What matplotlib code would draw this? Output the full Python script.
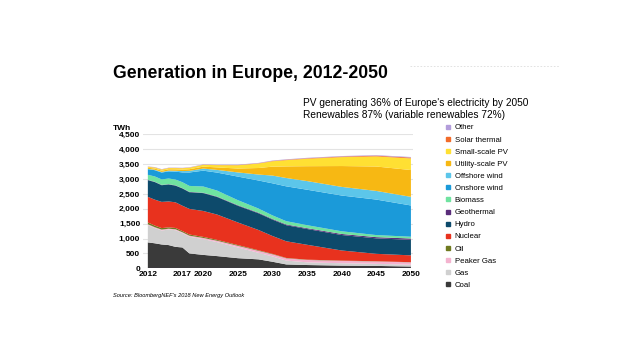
import matplotlib
matplotlib.use("Agg")
import matplotlib.pyplot as plt
from matplotlib.lines import Line2D

years = [2012, 2013, 2014, 2015, 2016, 2017, 2018, 2020, 2022, 2025, 2028, 2030, 2032, 2035, 2040, 2045, 2050]

coal       = [870, 840, 800, 780, 720, 700, 500, 450, 410, 340, 300, 220, 130, 110, 90, 80, 60]
gas        = [580, 510, 470, 520, 560, 480, 560, 530, 470, 360, 220, 180, 130, 90, 80, 70, 60]
peaker_gas = [30, 30, 30, 30, 30, 30, 35, 40, 45, 55, 65, 70, 75, 80, 80, 80, 80]
oil        = [60, 55, 50, 45, 45, 40, 40, 35, 30, 25, 20, 15, 12, 10, 8, 6, 5]
nuclear    = [860, 870, 880, 870, 860, 850, 860, 870, 850, 760, 680, 600, 560, 500, 340, 250, 230]
hydro      = [560, 590, 560, 570, 560, 580, 560, 600, 590, 560, 560, 550, 540, 530, 520, 520, 520]
geothermal = [10, 10, 10, 10, 10, 10, 12, 12, 15, 18, 20, 22, 25, 28, 35, 40, 45]
biomass    = [170, 180, 185, 190, 195, 200, 200, 210, 200, 170, 140, 120, 110, 100, 90, 70, 60]
onshore    = [188, 210, 230, 240, 265, 330, 450, 532, 604, 792, 943, 1077, 1170, 1191, 1201, 1192, 1050]
offshore   = [12, 15, 20, 25, 30, 45, 55, 70, 90, 140, 200, 260, 280, 290, 290, 290, 290]
utility_pv = [36, 40, 42, 45, 48, 50, 55, 65, 85, 130, 220, 300, 390, 500, 700, 820, 900]
small_pv   = [30, 35, 38, 40, 42, 45, 50, 60, 75, 110, 150, 180, 210, 250, 300, 340, 390]
solar_th   = [4, 5, 5, 5, 5, 5, 5, 6, 6, 8, 10, 12, 14, 16, 20, 24, 28]
other      = [10, 10, 10, 10, 10, 10, 10, 10, 10, 12, 12, 14, 14, 15, 16, 18, 20]

labels = ["Coal", "Gas", "Peaker Gas", "Oil", "Nuclear", "Hydro", "Geothermal",
          "Biomass", "Onshore wind", "Offshore wind", "Utility-scale PV",
          "Small-scale PV", "Solar thermal", "Other"]
series = [coal, gas, peaker_gas, oil, nuclear, hydro, geothermal, biomass,
          onshore, offshore, utility_pv, small_pv, solar_th, other]
colors = ["#3a3a3a", "#d0d0d0", "#f4b3cf", "#6f7a1f", "#e8321e", "#0d4a6b",
          "#5a2d7a", "#6fe3a0", "#1b9ad9", "#5cc6ea", "#f7b813", "#ffe033",
          "#f26b2a", "#b39ddb"]

yticks = [0, 500, 1000, 1500, 2000, 2500, 3000, 3500, 4000, 4500]
xticks = [2012, 2017, 2020, 2025, 2030, 2035, 2040, 2045, 2050]

plt.rcParams['font.family'] = ['Liberation Sans', 'DejaVu Sans']

fig = plt.figure(figsize=(6.4, 3.6), dpi=100)
fig.patch.set_facecolor("white")
ax = fig.add_axes([143/640, (360-268.3)/360, (413-143)/640, 134/360])

ax.stackplot(years, *series, colors=colors, labels=labels, linewidth=0)
ax.set_xlim(2011.3, 2050.3)
ax.set_ylim(0, 4500)
ax.set_yticks(yticks)
ax.set_yticklabels([f"{v:,}" for v in yticks], fontsize=6, fontweight='bold')
ax.set_xticks(xticks)
ax.set_xticklabels([str(v) for v in xticks], fontsize=6, fontweight='bold')
ax.tick_params(length=0, pad=2)
ax.grid(axis='y', color='#e3e3e3', linewidth=0.8)
ax.set_axisbelow(True)
for s in ax.spines.values():
    s.set_visible(False)
ax.axhline(0, color='#5a2d7a', linewidth=0.8, xmin=0.02, xmax=0.99)

fig.text(113/640, 1-128/360, "TWh", fontsize=6, fontweight='bold', va='center', ha='left')

fig.text(113/640, 1-73/360, "Generation in Europe, 2012-2050", fontsize=12.7,
         fontweight='bold', va='center', ha='left')
fig.text(303/640, 1-103/360, "PV generating 36% of Europe's electricity by 2050",
         fontsize=7.3, va='center', ha='left')
fig.text(303/640, 1-115/360, "Renewables 87% (variable renewables 72%)",
         fontsize=7.3, va='center', ha='left')
fig.text(113/640, 1-295/360, "Source: BloombergNEF's 2018 New Energy Outlook",
         fontsize=4.1, style='italic', va='center', ha='left')
fig.add_artist(Line2D([410/640, 560/640], [1-66/360, 1-66/360], color='#dddddd',
                      linewidth=0.6, linestyle=(0, (2, 2))))

handles = [Line2D([], [], marker='s', linestyle='none', markersize=3.2,
                  markerfacecolor=c, markeredgecolor=c) for c in colors]
leg = fig.legend(handles[::-1], labels[::-1], loc='upper left',
                 bbox_to_anchor=(446/640, 1-124/360), frameon=False,
                 fontsize=5.6, handlelength=0.6, handletextpad=0.5,
                 labelspacing=0.6, borderaxespad=0, borderpad=0)

fig.savefig("out.png", dpi=100, facecolor="white")
